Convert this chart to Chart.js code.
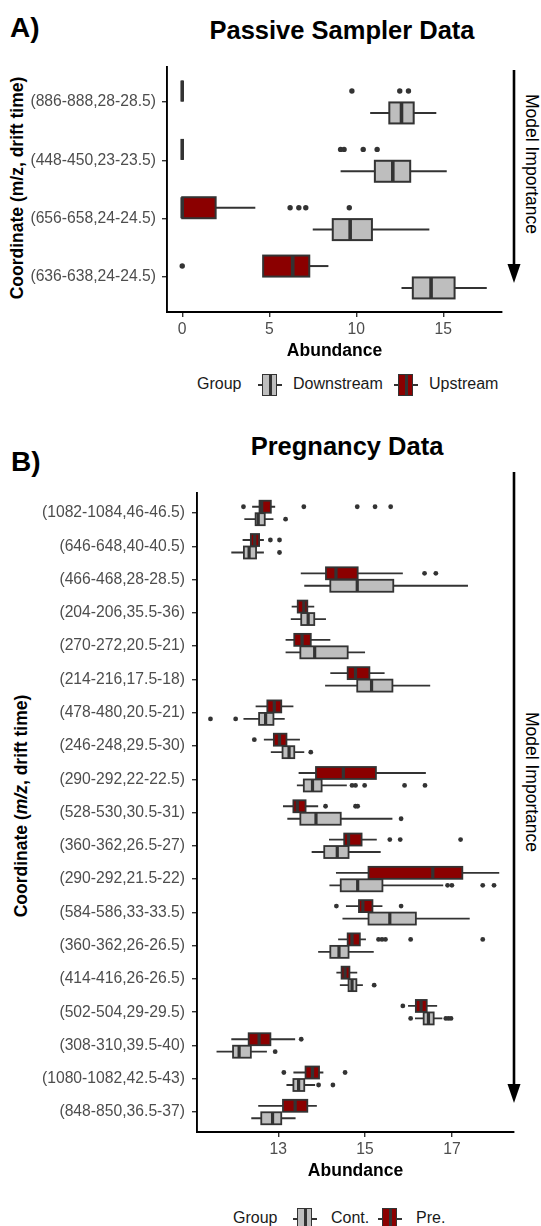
<!DOCTYPE html>
<html>
<head>
<meta charset="utf-8">
<script src="https://cdn.jsdelivr.net/npm/chart.js@4.4.0/dist/chart.umd.min.js"></script>
<style>
  body { margin: 0; background: #fff; }
  #page { position: relative; width: 541px; height: 1226px; overflow: hidden;
          font-family: 'Liberation Sans', Arial, sans-serif; color: #000; }
  .abs { position: absolute; white-space: nowrap; line-height: 1; }
  .tag { font-weight: bold; font-size: 28px; transform: translateY(-50%); }
  .title { font-weight: bold; font-size: 25.5px; transform: translate(-50%, -50%); }
  .ytitle { font-weight: bold; font-size: 17.5px; transform: translate(-50%, -50%) rotate(-90deg); }
  .side { font-size: 17.5px; transform: translate(-50%, -50%) rotate(90deg); }
  .leg { font-size: 16px; color: #1a1a1a; transform: translateY(-50%); }
  .key { position: absolute; width: 24px; height: 22px; transform: translateY(-50%); }
  .key .w { position: absolute; left: 0; right: 0; top: 10px; height: 1.8px; background: #333; }
  .key .b { position: absolute; left: 4px; width: 13px; top: 0; bottom: 0; border: 1.8px solid #333; }
  .key .m { position: absolute; left: 11px; width: 2.8px; top: 0; bottom: 0; background: #333; }
  canvas { position: absolute; left: 0; }
</style>
</head>
<body>
<div id="page">
  <div class="abs tag" style="left:10px; top:28px;">A)</div>
  <div class="abs title" style="left:342px; top:31px;">Passive Sampler Data</div>
  <div class="abs ytitle" style="left:17.5px; top:188px;">Coordinate (m/z, drift time)</div>
  <div class="abs side" style="left:531px; top:164px;">Model Importance</div>
  <canvas id="passiveChart" width="541" height="322" style="top:40px; width:541px; height:322px;"></canvas>

  <div class="abs leg" style="left:197px; top:384px;">Group</div>
  <div class="key" style="left:258px; top:385px;"><div class="w"></div><div class="b" style="background:#bebebe"></div><div class="m"></div></div>
  <div class="abs leg" style="left:293px; top:384px;">Downstream</div>
  <div class="key" style="left:394px; top:385px;"><div class="w"></div><div class="b" style="background:#8b0000"></div><div class="m"></div></div>
  <div class="abs leg" style="left:429px; top:384px;">Upstream</div>

  <div class="abs tag" style="left:11px; top:462px;">B)</div>
  <div class="abs title" style="left:347px; top:447px;">Pregnancy Data</div>
  <div class="abs ytitle" style="left:21.5px; top:806px;">Coordinate (<i>m/z</i>, drift time)</div>
  <div class="abs side" style="left:531px; top:782px;">Model Importance</div>
  <canvas id="pregnancyChart" width="541" height="712" style="top:470px; width:541px; height:712px;"></canvas>

  <div class="abs leg" style="left:233px; top:1218px;">Group</div>
  <div class="key" style="left:293px; top:1219px;"><div class="w"></div><div class="b" style="background:#bebebe"></div><div class="m"></div></div>
  <div class="abs leg" style="left:331px; top:1218px;">Cont.</div>
  <div class="key" style="left:378px; top:1219px;"><div class="w"></div><div class="b" style="background:#8b0000"></div><div class="m"></div></div>
  <div class="abs leg" style="left:416px; top:1218px;">Pre.</div>
</div>

<script>
// ---- Panel A: passive sampler data ----
const passiveLabels = ['(886-888,28-28.5)', '(448-450,23-23.5)', '(656-658,24-24.5)', '(636-638,24-24.5)'];
const passiveTicks = [0, 5, 10, 15];
// [lower whisker, Q1, median, Q3, upper whisker]
const downstreamStats = [
    [10.8, 11.9, 12.6, 13.3, 14.6],
    [9.1, 11.07, 12.1, 13.1, 15.2],
    [7.5, 8.65, 9.65, 10.9, 14.2],
    [12.6, 13.25, 14.3, 15.65, 17.5]
];
const upstreamStats = [
    [0, 0, 0, 0, 0],
    [0, 0, 0, 0, 0],
    [0, 0, 0, 1.92, 4.2],
    [4.65, 4.65, 6.35, 7.3, 8.4]
];
const downstreamOutliers = [[], [], [], []];
const upstreamOutliers = [[9.75, 12.5, 13.0], [9.1, 9.3, 10.4, 11.2], [6.2, 6.7, 7.1, 9.6], [0]];

// ---- Panel B: pregnancy data ----
const pregnancyLabels = [
    '(1082-1084,46-46.5)', '(646-648,40-40.5)', '(466-468,28-28.5)', '(204-206,35.5-36)',
    '(270-272,20.5-21)', '(214-216,17.5-18)', '(478-480,20.5-21)', '(246-248,29.5-30)',
    '(290-292,22-22.5)', '(528-530,30.5-31)', '(360-362,26.5-27)', '(290-292,21.5-22)',
    '(584-586,33-33.5)', '(360-362,26-26.5)', '(414-416,26-26.5)', '(502-504,29-29.5)',
    '(308-310,39.5-40)', '(1080-1082,42.5-43)', '(848-850,36.5-37)'
];
const pregnancyTicks = [13, 15, 17];
const preStats = [
    [12.4, 12.57, 12.62, 12.83, 12.93],
    [12.18, 12.37, 12.46, 12.56, 12.67],
    [13.52, 14.1, 14.33, 14.83, 15.87],
    [13.31, 13.45, 13.59, 13.67, 13.83],
    [13.17, 13.37, 13.55, 13.75, 14.2],
    [14.2, 14.6, 14.78, 15.1, 15.45],
    [12.48, 12.75, 12.91, 13.07, 13.35],
    [12.67, 12.9, 13.03, 13.19, 13.5],
    [13.47, 13.87, 14.5, 15.25, 16.4],
    [13.11, 13.35, 13.44, 13.63, 13.92],
    [14.17, 14.52, 14.62, 14.92, 15.27],
    [14.33, 15.08, 16.56, 17.24, 18.09],
    [14.56, 14.86, 14.95, 15.17, 15.4],
    [14.38, 14.6, 14.7, 14.88, 15.02],
    [14.34, 14.46, 14.54, 14.64, 14.82],
    [15.99, 16.17, 16.29, 16.42, 16.66],
    [11.92, 12.32, 12.56, 12.82, 13.39],
    [13.35, 13.63, 13.79, 13.94, 14.04],
    [12.54, 13.11, 13.39, 13.67, 13.89]
];
const contStats = [
    [12.22, 12.48, 12.54, 12.69, 12.89],
    [11.92, 12.21, 12.33, 12.49, 12.67],
    [13.6, 14.2, 14.82, 15.65, 17.37],
    [13.29, 13.53, 13.69, 13.83, 14.1],
    [13.17, 13.51, 13.84, 14.6, 15.0],
    [14.08, 14.82, 15.15, 15.63, 16.5],
    [12.2, 12.56, 12.71, 12.89, 13.15],
    [12.83, 13.1, 13.25, 13.37, 13.6],
    [13.43, 13.59, 13.79, 14.0, 14.58],
    [13.21, 13.51, 13.87, 14.44, 15.63],
    [13.77, 14.06, 14.36, 14.62, 15.36],
    [14.18, 14.44, 14.83, 15.4, 16.8],
    [14.48, 15.08, 15.57, 16.17, 17.41],
    [13.92, 14.2, 14.4, 14.62, 15.2],
    [14.42, 14.62, 14.7, 14.8, 14.95],
    [16.15, 16.35, 16.46, 16.58, 16.78],
    [11.58, 11.96, 12.1, 12.37, 12.74],
    [13.19, 13.35, 13.47, 13.6, 13.85],
    [12.38, 12.61, 12.87, 13.07, 13.4]
];
const preOutliers = [
    [12.2, 13.59, 14.82, 15.23, 15.59], [12.82, 13.03], [16.37, 16.63], [], [], [], [],
    [12.45], [], [14.09, 14.78, 14.83], [15.57, 15.81, 17.2], [], [14.34, 15.83],
    [15.31, 15.39, 15.47, 16.05, 17.71], [], [15.87], [13.53], [13.13, 14.54], []
];
const contOutliers = [
    [13.17], [13.03], [], [], [], [], [11.44, 12.02], [13.75],
    [14.7, 14.78, 14.99, 15.91, 16.38], [15.83], [], [16.9, 17.0, 17.71, 17.97], [], [],
    [15.21], [16.05, 16.86, 16.92, 16.98], [12.93], [13.93, 14.26], []
];

const FONT = "'Liberation Sans', Arial, sans-serif";
const LINE = '#333333';
const DODGE = 0.1875;   // half of ggplot's 0.75 box width
const HALF_BOX = 0.18;

// Draws the boxes and whiskers from the stats arrays, plus the importance arrow
function boxPlotPlugin(groups, style) {
    return {
        id: 'boxPlots',
        beforeDatasetsDraw(chart) {
            const { ctx, scales: { x, y } } = chart;
            ctx.save();
            groups.forEach(g => {
                g.stats.forEach((s, i) => {
                    const [lo, q1, med, q3, hi] = s.map(v => x.getPixelForValue(v));
                    const yc = y.getPixelForValue(i + g.shift);
                    const top = y.getPixelForValue(i + g.shift - HALF_BOX);
                    const bottom = y.getPixelForValue(i + g.shift + HALF_BOX);

                    ctx.strokeStyle = LINE;
                    ctx.lineWidth = style.line;
                    ctx.beginPath();
                    ctx.moveTo(lo, yc); ctx.lineTo(q1, yc);
                    ctx.moveTo(q3, yc); ctx.lineTo(hi, yc);
                    ctx.stroke();

                    ctx.fillStyle = g.fill;
                    ctx.fillRect(q1, top, q3 - q1, bottom - top);
                    ctx.strokeRect(q1, top, q3 - q1, bottom - top);

                    ctx.lineWidth = style.median;
                    ctx.beginPath();
                    ctx.moveTo(med, top); ctx.lineTo(med, bottom);
                    ctx.stroke();
                });
            });
            ctx.restore();
        },
        afterDraw(chart) {
            const { ctx, chartArea } = chart;
            const ax = style.arrowX;
            const y0 = chartArea.top + style.arrowTop;
            const tip = chartArea.bottom - 29;
            ctx.save();
            ctx.strokeStyle = '#000';
            ctx.fillStyle = '#000';
            ctx.lineWidth = 2.6;
            ctx.beginPath();
            ctx.moveTo(ax, y0); ctx.lineTo(ax, tip - 15);
            ctx.stroke();
            ctx.beginPath();
            ctx.moveTo(ax - 6.5, tip - 19);
            ctx.lineTo(ax + 6.5, tip - 19);
            ctx.lineTo(ax, tip);
            ctx.closePath();
            ctx.fill();
            ctx.restore();
        }
    };
}

function makeBoxChart(canvasId, cfg) {
    const groups = [
        { stats: cfg.redStats, outliers: cfg.redOutliers, fill: '#8b0000', shift: -DODGE },
        { stats: cfg.greyStats, outliers: cfg.greyOutliers, fill: '#bebebe', shift: DODGE }
    ];
    const datasets = groups.map(g => ({
        data: g.outliers.flatMap((vals, i) => vals.map(v => ({ x: v, y: i + g.shift }))),
        backgroundColor: LINE,
        borderWidth: 0,
        pointRadius: cfg.dot,
        pointHoverRadius: cfg.dot
    }));

    const ctx = document.getElementById(canvasId).getContext('2d');
    return new Chart(ctx, {
        type: 'scatter',
        data: { datasets: datasets },
        options: {
            responsive: false,
            animation: false,
            events: [],
            layout: { padding: { top: cfg.padTop, right: cfg.padRight, bottom: 0, left: 0 } },
            plugins: { legend: { display: false }, tooltip: { enabled: false } },
            scales: {
                x: {
                    type: 'linear',
                    min: cfg.xMin,
                    max: cfg.xMax,
                    afterBuildTicks: s => { s.ticks = cfg.ticks.map(v => ({ value: v })); },
                    afterFit: s => { s.height = 50; },
                    grid: { drawOnChartArea: false, tickLength: 5, color: LINE, lineWidth: 1.4 },
                    border: { display: true, color: '#000', width: 1.9 },
                    ticks: { font: { family: FONT, size: 15.7 }, color: '#4d4d4d', padding: 3, maxRotation: 0 },
                    title: {
                        display: true, text: 'Abundance', color: '#000',
                        font: { family: FONT, size: 17.5, weight: 'bold' }, padding: 0
                    }
                },
                y: {
                    type: 'linear',
                    reverse: true,
                    min: -0.6,
                    max: cfg.labels.length - 0.4,
                    afterBuildTicks: s => { s.ticks = cfg.labels.map((_, i) => ({ value: i })); },
                    afterFit: s => { s.width = cfg.axisLeft; },
                    grid: { drawOnChartArea: false, tickLength: 5, color: LINE, lineWidth: 1.4 },
                    border: { display: true, color: '#000', width: 1.9 },
                    ticks: {
                        autoSkip: false,
                        font: { family: FONT, size: 15.7 },
                        color: '#4d4d4d',
                        padding: cfg.labelPad,
                        callback: v => cfg.labels[v]
                    }
                }
            }
        },
        plugins: [boxPlotPlugin(groups, { line: cfg.line, median: cfg.median, arrowX: 514, arrowTop: cfg.arrowTop })]
    });
}

makeBoxChart('passiveChart', {
    labels: passiveLabels, ticks: passiveTicks,
    redStats: upstreamStats, redOutliers: upstreamOutliers,
    greyStats: downstreamStats, greyOutliers: downstreamOutliers,
    xMin: -0.875, xMax: 18.375,
    padTop: 27, padRight: 39, axisLeft: 167, labelPad: 6,
    line: 2, median: 3.6, dot: 2.7, arrowTop: 3
});

makeBoxChart('pregnancyChart', {
    labels: pregnancyLabels, ticks: pregnancyTicks,
    redStats: preStats, redOutliers: preOutliers,
    greyStats: contStats, greyOutliers: contOutliers,
    xMin: 11.13, xMax: 18.43,
    padTop: 23, padRight: 27, axisLeft: 197, labelPad: 7,
    line: 1.8, median: 3.2, dot: 2.4, arrowTop: -21
});
</script>
</body>
</html>
